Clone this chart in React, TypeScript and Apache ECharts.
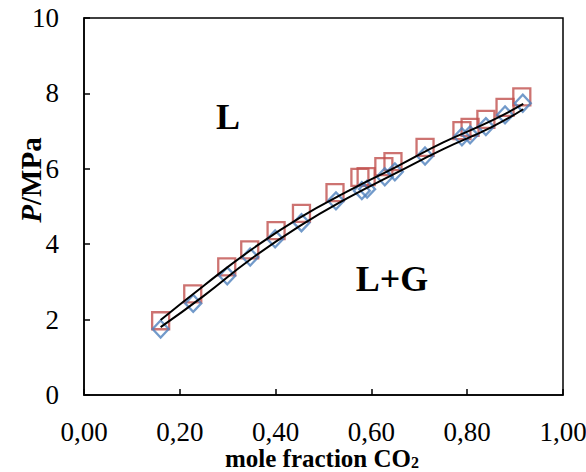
import React, { useEffect, useRef } from "react";
import * as echarts from "echarts";

const xTicks = [0, 0.2, 0.4, 0.6, 0.8, 1.0];
const yTicks = [0, 2, 4, 6, 8, 10];

const xSquares = [0.160, 0.227, 0.298, 0.346, 0.401, 0.454, 0.524, 0.576, 0.589, 0.626, 0.645, 0.712, 0.789, 0.806, 0.839, 0.879, 0.914];
const pSquares = [1.97, 2.68, 3.40, 3.85, 4.36, 4.82, 5.37, 5.77, 5.79, 6.06, 6.19, 6.57, 7.01, 7.10, 7.31, 7.63, 7.91];

const xDiamonds = [0.160, 0.228, 0.299, 0.347, 0.399, 0.454, 0.526, 0.580, 0.591, 0.628, 0.649, 0.712, 0.789, 0.806, 0.839, 0.879, 0.916];
const pDiamonds = [1.75, 2.43, 3.16, 3.66, 4.14, 4.57, 5.15, 5.42, 5.46, 5.79, 5.92, 6.34, 6.85, 6.90, 7.12, 7.43, 7.74];

const xUpper = [0.16, 0.25, 0.35, 0.45, 0.55, 0.65, 0.75, 0.85, 0.917];
const pUpper = [1.99, 2.90, 3.86, 4.70, 5.40, 6.04, 6.70, 7.27, 7.72];

const xLower = [0.16, 0.25, 0.35, 0.45, 0.55, 0.65, 0.75, 0.85, 0.917];
const pLower = [1.80, 2.63, 3.62, 4.48, 5.22, 5.88, 6.52, 7.10, 7.58];

const regionLabels = ["L", "L+G"];

const zip = (xs: number[], ys: number[]) => xs.map((x, i) => [x, ys[i]]);

const SERIF = "'Liberation Serif', 'DejaVu Serif', serif";

export default function App() {
  const ref = useRef<HTMLDivElement>(null);
  useEffect(() => {
    if (!ref.current) return;
    const chart = echarts.init(ref.current, null, { renderer: "svg" });
    chart.setOption({
      animation: false,
      backgroundColor: "#fff",
      grid: {
        left: 84,
        right: 23,
        top: 18,
        bottom: 77,
        containLabel: false,
        outerBoundsMode: "none",
        show: true,
        borderColor: "#000",
        borderWidth: 1.5,
      },
      xAxis: {
        type: "value",
        min: xTicks[0],
        max: xTicks[xTicks.length - 1],
        interval: 0.2,
        splitLine: { show: false },
        axisLine: { lineStyle: { color: "#000", width: 1.5 } },
        axisTick: { inside: true, length: 6, lineStyle: { color: "#000", width: 1.5 } },
        axisLabel: {
          margin: 23,
          color: "#000",
          fontFamily: SERIF,
          fontSize: 27,
          formatter: (v: number) => v.toFixed(2).replace(".", ","),
        },
      },
      yAxis: {
        type: "value",
        min: yTicks[0],
        max: yTicks[yTicks.length - 1],
        interval: 2,
        splitLine: { show: false },
        axisLine: { show: true, lineStyle: { color: "#000", width: 1.5 } },
        axisTick: { show: true, inside: true, length: 6, lineStyle: { color: "#000", width: 1.5 } },
        axisLabel: {
          margin: 25,
          color: "#000",
          fontFamily: SERIF,
          fontSize: 27,
        },
      },
      graphic: [
        {
          type: "text",
          x: 322,
          y: 458,
          style: {
            text: "{b|mole fraction CO}{s|2}",
            align: "center",
            verticalAlign: "middle",
            rich: {
              b: { fontFamily: SERIF, fontWeight: "bold", fontSize: 25, fill: "#000", lineHeight: 24 },
              s: { fontFamily: SERIF, fontWeight: "bold", fontSize: 16, fill: "#000", padding: [8, 0, 0, 0], lineHeight: 16 },
            },
          },
        },
        {
          type: "text",
          x: 31,
          y: 180,
          rotation: Math.PI / 2,
          style: {
            text: "{i|P}{b|/MPa}",
            align: "center",
            verticalAlign: "middle",
            rich: {
              i: { fontFamily: SERIF, fontWeight: "bold", fontStyle: "italic", fontSize: 29, fill: "#000" },
              b: { fontFamily: SERIF, fontWeight: "bold", fontSize: 29, fill: "#000" },
            },
          },
        },
        {
          type: "text",
          x: 228,
          y: 117,
          style: {
            text: regionLabels[0],
            fontFamily: SERIF,
            fontWeight: "bold",
            fontSize: 36,
            fill: "#000",
            align: "center",
            verticalAlign: "middle",
          },
        },
        {
          type: "text",
          x: 392,
          y: 279,
          style: {
            text: regionLabels[1],
            fontFamily: SERIF,
            fontWeight: "bold",
            fontSize: 36,
            fill: "#000",
            align: "center",
            verticalAlign: "middle",
          },
        },
      ],
      series: [
        {
          type: "scatter",
          data: zip(xSquares, pSquares),
          symbol: "rect",
          symbolSize: 17,
          itemStyle: { color: "rgba(0,0,0,0)", borderColor: "#C0504D", borderWidth: 2.3 },
          z: 2,
        },
        {
          type: "scatter",
          data: zip(xDiamonds, pDiamonds),
          symbol: "diamond",
          symbolSize: [16, 17],
          itemStyle: { color: "rgba(0,0,0,0)", borderColor: "#4F81BD", borderWidth: 2.3 },
          z: 3,
        },
        {
          type: "line",
          data: zip(xUpper, pUpper),
          smooth: true,
          showSymbol: false,
          lineStyle: { color: "#000", width: 2 },
          z: 4,
        },
        {
          type: "line",
          data: zip(xLower, pLower),
          smooth: true,
          showSymbol: false,
          lineStyle: { color: "#000", width: 2 },
          z: 4,
        },
      ],
    });
    return () => chart.dispose();
  }, []);
  return (
    <div
      ref={ref}
      style={{ position: "absolute", left: 0, top: 0, width: 586, height: 472 }}
    />
  );
}
